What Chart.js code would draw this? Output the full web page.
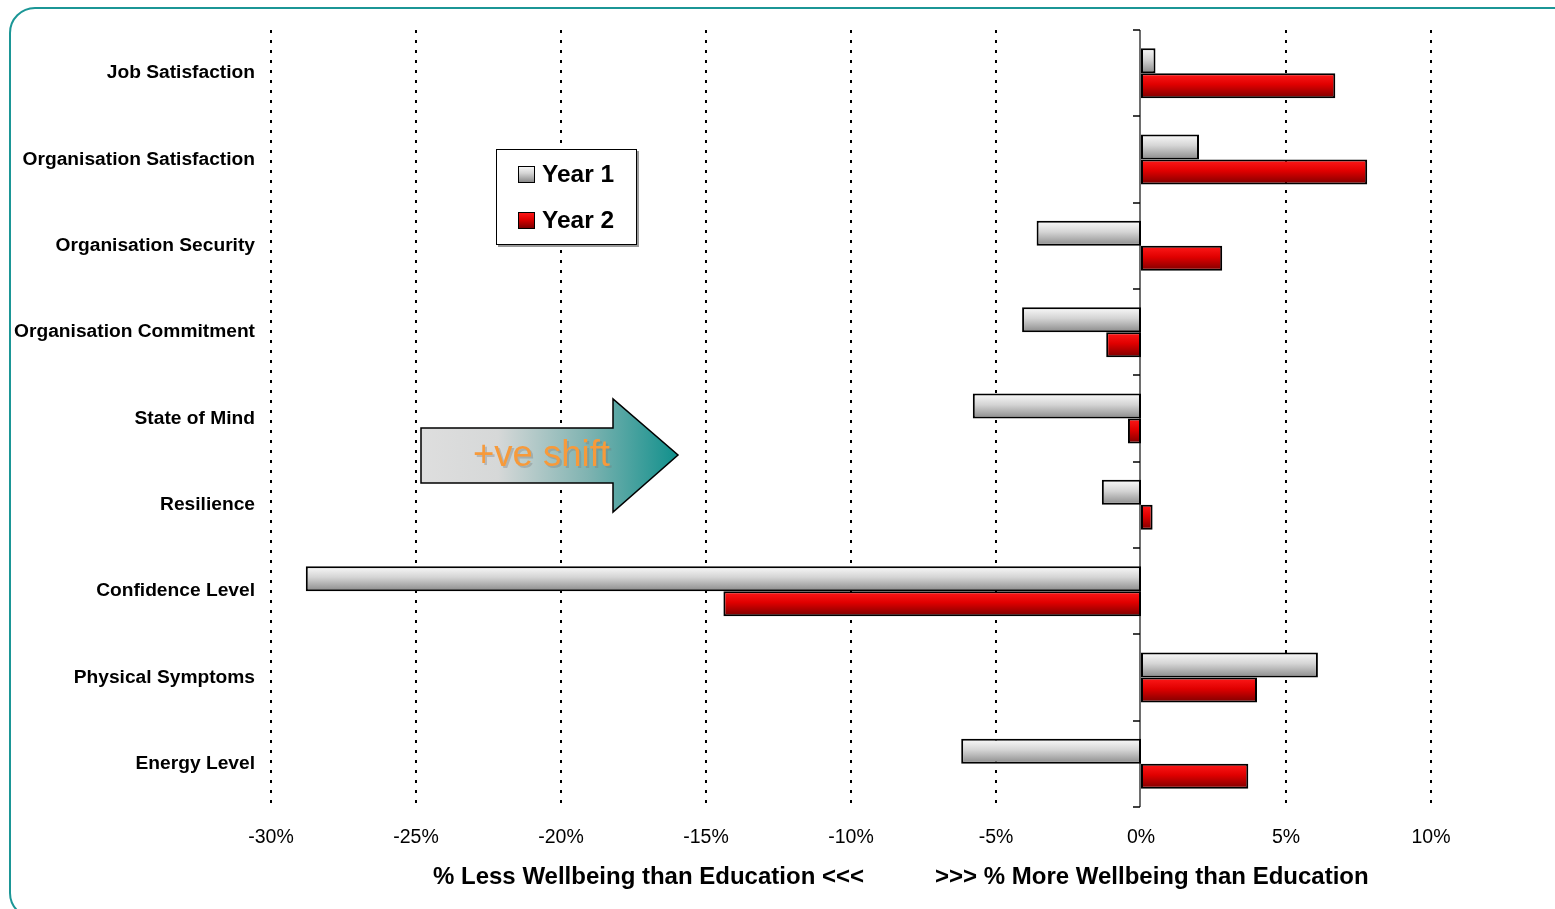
<!DOCTYPE html>
<html>
<head>
<meta charset="utf-8">
<script src="https://cdn.jsdelivr.net/npm/chart.js@4"></script>
<style>
  html, body { margin: 0; padding: 0; background: #fff; overflow: hidden; }
  #wrap { position: relative; width: 1555px; height: 909px; }
  #frame {
    position: absolute; left: 9px; top: 7px; width: 1620px; height: 912px;
    border: 2px solid #1b9696; border-radius: 26px; box-sizing: border-box;
  }
</style>
</head>
<body>
<div id="wrap">
  <div id="frame"></div>
  <canvas id="myChart"></canvas>
</div>
<script>
Chart.defaults.font.family = '"Liberation Sans", Arial, sans-serif';
Chart.defaults.color = '#000';

var categories = ['Job Satisfaction', 'Organisation Satisfaction', 'Organisation Security',
  'Organisation Commitment', 'State of Mind', 'Resilience', 'Confidence Level',
  'Physical Symptoms', 'Energy Level'];
var year1 = [0.5, 2.0, -3.6, -4.1, -5.8, -1.35, -28.8, 6.1, -6.2];
var year2 = [6.7, 7.8, 2.8, -1.2, -0.45, 0.4, -14.4, 4.0, 3.7];
var seriesNames = ['Year 1', 'Year 2'];
var xTicks = [-30, -25, -20, -15, -10, -5, 0, 5, 10];

var catPct = 0.58;

var fills = [
  ['#fbfbfb', '#d4d4d4', '#8a8a8a'],
  ['#ff1a1a', '#e00000', '#7c0000']
];

function barFill(ctx) {
  var chart = ctx.chart;
  var area = chart.chartArea;
  if (!area || ctx.dataIndex === undefined) return fills[ctx.datasetIndex][1];
  var y = chart.scales.y;
  var center = y.getPixelForValue(ctx.dataIndex);
  var thick = (area.bottom - area.top) / categories.length * catPct / 2;
  var top = ctx.datasetIndex === 0 ? center - thick : center;
  var g = chart.ctx.createLinearGradient(0, top, 0, top + thick);
  var c = fills[ctx.datasetIndex];
  g.addColorStop(0, c[0]);
  g.addColorStop(0.45, c[1]);
  g.addColorStop(1, c[2]);
  return g;
}

// dotted gridlines + zero axis with category ticks
var axisLines = {
  id: 'axisLines',
  beforeDatasetsDraw: function (chart) {
    var c = chart.ctx, a = chart.chartArea, x = chart.scales.x, y = chart.scales.y;
    c.save();
    c.strokeStyle = '#000';
    c.lineWidth = 2;
    c.setLineDash([3, 7]);
    xTicks.forEach(function (v) {
      if (v === 0) return;
      var px = Math.round(x.getPixelForValue(v));
      c.beginPath();
      c.moveTo(px, a.top);
      c.lineTo(px, a.bottom);
      c.stroke();
    });
    c.setLineDash([]);
    var zx = Math.round(x.getPixelForValue(0)) - 1;
    c.strokeStyle = '#6e6e6e';
    c.lineWidth = 2;
    c.beginPath();
    c.moveTo(zx, a.top);
    c.lineTo(zx, a.bottom);
    c.stroke();
    var step = (a.bottom - a.top) / categories.length;
    c.strokeStyle = '#000';
    c.lineWidth = 1.5;
    for (var i = 0; i <= categories.length; i++) {
      var ty = Math.round(a.top + i * step);
      c.beginPath();
      c.moveTo(zx - 7, ty);
      c.lineTo(zx, ty);
      c.stroke();
    }
    c.restore();
  },
  afterDraw: function (chart) {
    var c = chart.ctx;
    c.save();
    // axis titles
    c.font = 'bold 24px "Liberation Sans", Arial, sans-serif';
    c.fillStyle = '#000';
    c.textBaseline = 'middle';
    c.textAlign = 'right';
    c.fillText('% Less Wellbeing than Education <<<', 864, 877);
    c.textAlign = 'left';
    c.fillText('>>> % More Wellbeing than Education', 935, 877);

    // legend box
    c.fillStyle = '#9a9a9a';
    c.fillRect(498, 151, 141, 96);
    c.fillStyle = '#fff';
    c.fillRect(496, 149, 141, 96);
    c.strokeStyle = '#000';
    c.lineWidth = 1;
    c.strokeRect(496.5, 149.5, 140, 95);
    var rows = [174, 220];
    chart.data.datasets.forEach(function (ds, i) {
      var sy = rows[i] - 8;
      var g = c.createLinearGradient(0, sy, 0, sy + 16);
      g.addColorStop(0, fills[i][0]);
      g.addColorStop(0.45, fills[i][1]);
      g.addColorStop(1, fills[i][2]);
      c.fillStyle = g;
      c.fillRect(518, sy, 16, 16);
      c.strokeStyle = '#000';
      c.strokeRect(518.5, sy + 0.5, 16, 16);
      c.fillStyle = '#000';
      c.font = 'bold 24.5px "Liberation Sans", Arial, sans-serif';
      c.textAlign = 'left';
      c.textBaseline = 'middle';
      c.fillText(ds.label, 542, rows[i] + 1);
    });

    // shift arrow
    c.beginPath();
    c.moveTo(421, 428);
    c.lineTo(613, 428);
    c.lineTo(613, 399);
    c.lineTo(678, 455);
    c.lineTo(613, 512);
    c.lineTo(613, 483);
    c.lineTo(421, 483);
    c.closePath();
    var ag = c.createLinearGradient(421, 0, 678, 0);
    ag.addColorStop(0, '#dedede');
    ag.addColorStop(0.3, '#d6d8d8');
    ag.addColorStop(0.65, '#7fb3b1');
    ag.addColorStop(1, '#10908c');
    c.fillStyle = ag;
    c.fill();
    c.strokeStyle = '#000';
    c.lineWidth = 1.5;
    c.stroke();
    c.font = '36.5px "Liberation Sans", Arial, sans-serif';
    c.textAlign = 'left';
    c.textBaseline = 'middle';
    c.fillStyle = 'rgba(120,120,120,0.35)';
    c.fillText('+ve shift', 475, 458);
    c.fillStyle = '#f79a3a';
    c.fillText('+ve shift', 473, 456);
    c.restore();
  }
};

var ctx = document.getElementById('myChart');

var myChart = new Chart(ctx, {
  type: 'bar',
  data: {
    labels: categories,
    datasets: [{
      label: seriesNames[0],
      data: year1,
      backgroundColor: barFill,
      borderColor: '#000',
      borderWidth: 2,
      borderSkipped: false,
      barPercentage: 1,
      categoryPercentage: catPct
    }, {
      label: seriesNames[1],
      data: year2,
      backgroundColor: barFill,
      borderColor: '#000',
      borderWidth: 2,
      borderSkipped: false,
      barPercentage: 1,
      categoryPercentage: catPct
    }]
  },
  options: {
    indexAxis: 'y',
    responsive: true,
    maintainAspectRatio: false,
    animation: false,
    layout: { padding: { left: 0, top: 30, right: 124, bottom: 52 } },
    plugins: {
      legend: { display: false },
      tooltip: { enabled: false }
    },
    scales: {
      x: {
        min: -30,
        max: 10,
        afterFit: function (s) { s.height = 50; },
        afterBuildTicks: function (s) { s.ticks = xTicks.map(function (v) { return { value: v }; }); },
        grid: { display: false, drawTicks: false },
        border: { display: false },
        ticks: {
          padding: 19,
          font: { size: 19.5 },
          color: '#000',
          callback: function (v) { return v + '%'; }
        }
      },
      y: {
        afterFit: function (s) { s.width = 271; },
        grid: { display: false, drawTicks: false },
        border: { display: false },
        ticks: {
          padding: 16,
          font: { size: 19.2, weight: 'bold' },
          color: '#000'
        }
      }
    }
  },
  plugins: [axisLines]
});
</script>
</body>
</html>
